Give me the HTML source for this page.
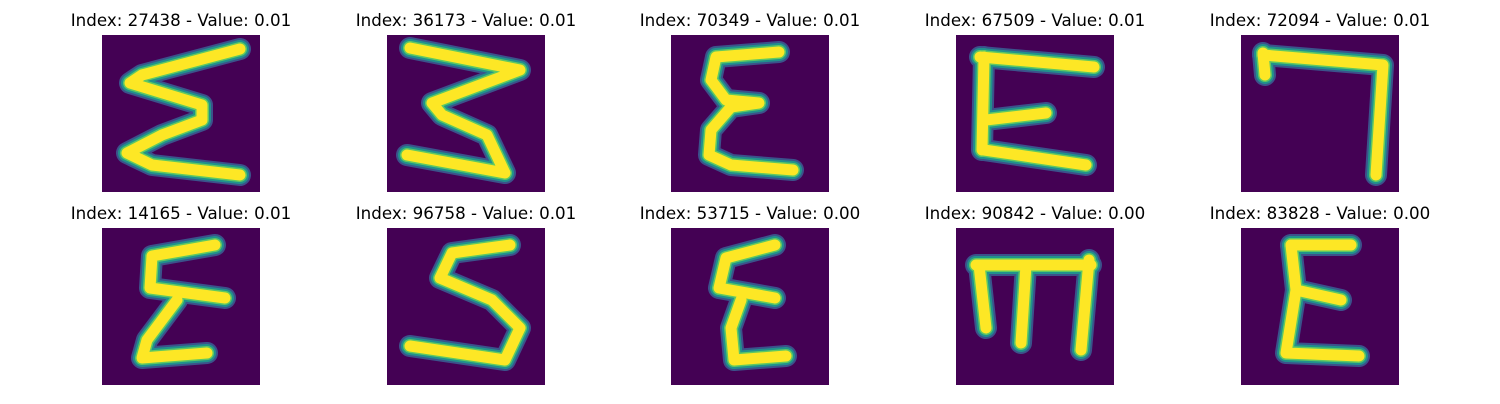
<!DOCTYPE html>
<html><head><meta charset="utf-8">
<style>
body{margin:0;background:#fff;width:1500px;height:400px;overflow:hidden;font-family:"DejaVu Sans","Liberation Sans",sans-serif}
</style></head>
<body>
<svg id="fig" width="1500" height="400"></svg>
<script>
const titles = ["Index: 27438 - Value: 0.01","Index: 36173 - Value: 0.01","Index: 70349 - Value: 0.01","Index: 67509 - Value: 0.01","Index: 72094 - Value: 0.01",
"Index: 14165 - Value: 0.01","Index: 96758 - Value: 0.01","Index: 53715 - Value: 0.00","Index: 90842 - Value: 0.00","Index: 83828 - Value: 0.00"];
const strokes = [
 [[[138,14],[40,40],[28,48],[100,70],[100,85],[60,100],[25,118],[50,130],[138,140]]],
 [[[23,13],[133,35],[45,68],[55,80],[100,100],[118,138],[20,120]]],
 [[[108,17],[45,22],[40,45],[55,65],[88,68],[60,72],[40,95],[38,120],[60,130],[122,135]]],
 [[[24,22],[138,32]],[[28,22],[26,115]],[[30,85],[90,78]],[[28,115],[130,130]]],
 [[[22,20],[142,30],[135,140]],[[22,18],[24,40]]],
 [[[113,17],[50,28],[48,60],[123,70]],[[75,72],[45,112],[40,130],[105,125]]],
 [[[123,17],[65,25],[53,50],[105,72],[133,100],[118,132],[23,118]]],
 [[[104,17],[55,30],[48,60],[104,70]],[[70,72],[60,100],[63,132],[115,128]]],
 [[[20,37],[135,37]],[[23,37],[30,100]],[[70,37],[65,115]],[[133,32],[125,122]]],
 [[[50,17],[110,17]],[[50,17],[55,62],[100,72]],[[55,62],[45,125],[118,128]]]
];
const NS="http://www.w3.org/2000/svg";
const svg=document.getElementById('fig');
const colX=[102,387,671,956,1241], rowY=[35,228], W=158, H=157;
titles.forEach((t,i)=>{
  const x=colX[i%5], y=rowY[Math.floor(i/5)];
  const g=document.createElementNS(NS,'g');
  
  
  const tx=document.createElementNS(NS,'text');
  tx.setAttribute('x',x+W/2);tx.setAttribute('y',y-9);
  tx.setAttribute('text-anchor','middle');tx.setAttribute('font-size','16.7');
  tx.setAttribute('font-family','DejaVu Sans, Liberation Sans, sans-serif');
  tx.textContent=t;
  
  
  g.appendChild(tx);
  const r=document.createElementNS(NS,'rect');
  r.setAttribute('x',x);r.setAttribute('y',y);r.setAttribute('width',W);r.setAttribute('height',H);
  r.setAttribute('fill','#440154');
  
  
  g.appendChild(r);
  [['#3b528b',22],['#21918c',18],['#5ec962',14],['#fde725',11]].forEach(([c,w])=>{
    strokes[i].forEach(s=>{
      const p=document.createElementNS(NS,'polyline');
      p.setAttribute('points',s.map(q=>(x+q[0])+','+(y+q[1])).join(' '));
      p.setAttribute('fill','none');p.setAttribute('stroke',c);p.setAttribute('stroke-width',w);
      p.setAttribute('stroke-linejoin','round');p.setAttribute('stroke-linecap','round');
      
      
      g.appendChild(p);
    });
  });
  svg.appendChild(g);
});
</script>
</body></html>
